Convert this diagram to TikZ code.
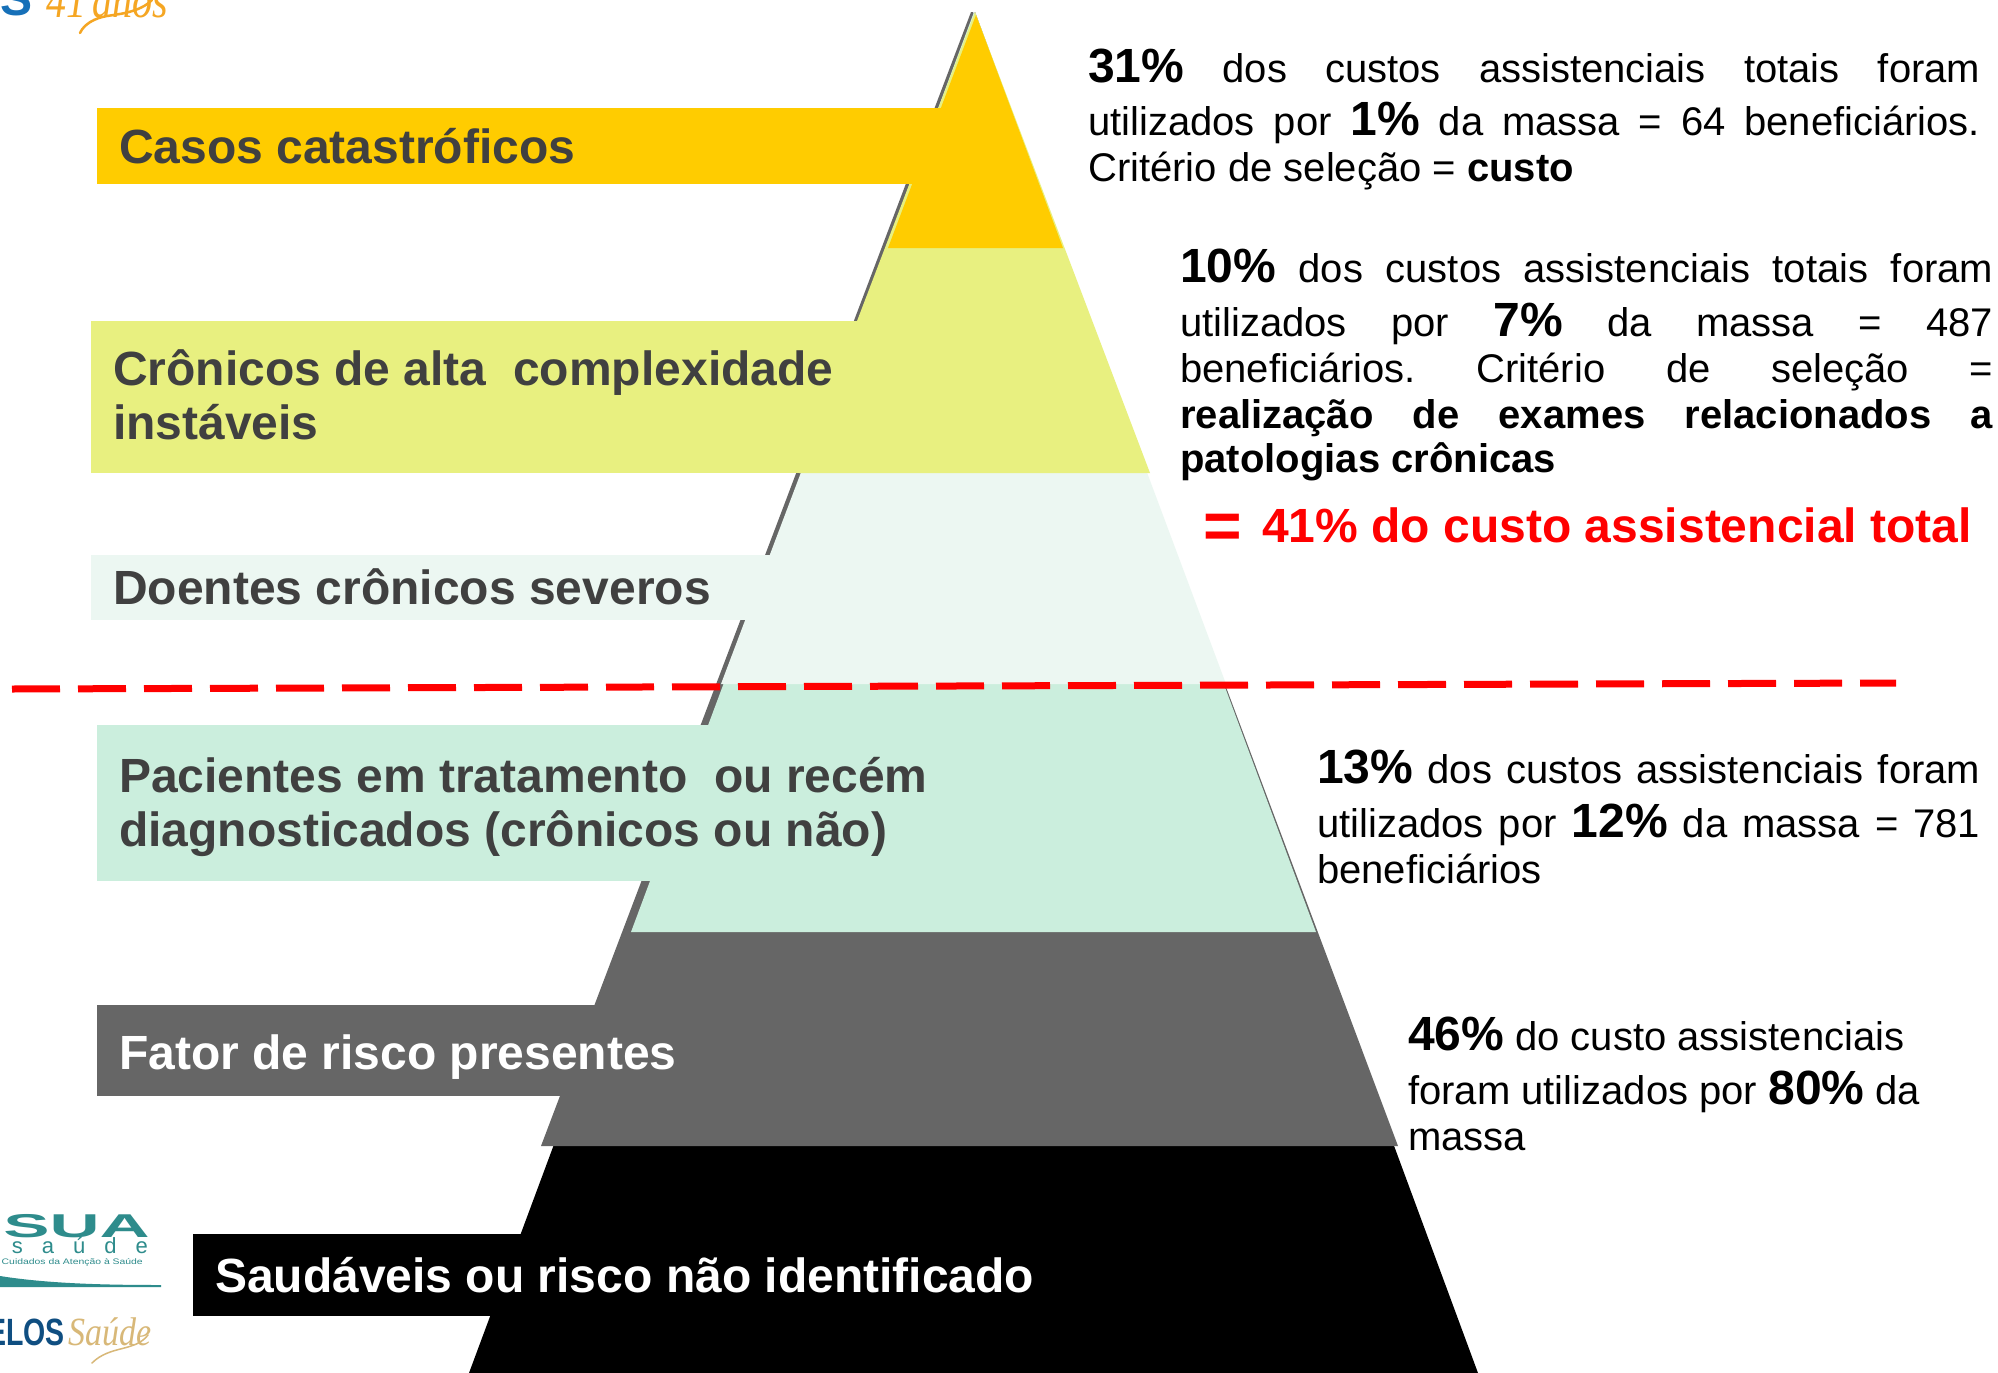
\documentclass[tikz,border=0pt]{standalone}
\usepackage{fontspec}
\setmainfont{Liberation Sans}
\newfontfamily\logoserif{Liberation Serif}
\usetikzlibrary{positioning}

\definecolor{gold}{HTML}{FFCC00}
\definecolor{lime}{HTML}{E8F080}
\definecolor{palemint}{HTML}{ECF7F2}
\definecolor{mint}{HTML}{CBEEDD}
\definecolor{midgrey}{HTML}{666666}
\definecolor{labelgrey}{HTML}{404040}
\definecolor{logoteal}{HTML}{2E8C8C}
\definecolor{logoblue}{HTML}{1670B8}
\definecolor{logotan}{HTML}{D8B878}
\definecolor{logoorange}{HTML}{F5A623}

\normallineskiplimit=-100pt
\newcommand{\bigpct}[1]{{\fontsize{48}{46}\selectfont\bfseries #1}}
\newcommand{\xgap}[1]{\vadjust{\vskip#1pt}}

\tikzset{
  band/.style={anchor=west,inner xsep=22pt,inner ysep=0pt,align=flush left,
    text=labelgrey,font=\fontsize{48}{54}\selectfont\bfseries},
  note/.style={anchor=north west,inner sep=0pt,align=justify,
    font=\fontsize{40}{46}\selectfont\frenchspacing},
  logotext/.style={inner sep=0pt},
}

\begin{document}
\begin{tikzpicture}[x=1pt,y=-1pt]
   \clip (0,0) rectangle (1998,1373);
   \fill[white] (0,0) rectangle (1998,1373);

   % pyramid, one triangle over the other
   \fill[black]    (975,12) -- (469,1373) -- (1478,1373) -- cycle;
   \fill[midgrey]  (971,12) -- (541,1146) -- (1398,1146) -- (973,12) -- cycle;
   \fill[mint]     (974,12) -- (631,932) -- (1316,932) -- cycle;
   \fill[palemint] (975,12) -- (721,684) -- (1226,684) -- cycle;
   \fill[lime]     (975,12) -- (799,473) -- (1150,473) -- cycle;
   \fill[gold]     (976,15) -- (888,248) -- (1063,248) -- cycle;

   \node[band,fill=gold,text width=800pt,minimum height=76pt] (casos) at (97,146) {Casos catastróficos};
   \node[band,fill=lime,text width=780pt,minimum height=152pt] (altos) at (91,397) {Crônicos de alta\ \ complexidade\\instáveis\rule[-4pt]{0pt}{1pt}};
   \node[band,fill=palemint,text width=680pt,minimum height=65pt] (severos) at (91,587) {Doentes crônicos severos};
   \node[band,fill=mint,text width=830pt,minimum height=156pt] (tratamento) at (97,803) {\rule{0pt}{44pt}Pacientes em tratamento\ \ ou recém\\diagnosticados (crônicos ou não)};
   \node[band,fill=midgrey,text=white,text width=600pt,minimum height=91pt] (fator) at (97,1050) {\rule{0pt}{48pt}Fator de risco presentes};
   \node[band,fill=black,text=white,text width=840pt,minimum height=82pt] (saudaveis) at (193,1275) {Saudáveis ou risco não identificado};

   \node[note,text width=892pt] (nota_a) at (1088,49) {\bigpct{31\%} dos custos assistenciais totais foram\xgap{7}\linebreak
     utilizados por \bigpct{1\%} da massa = 64 beneficiários.\linebreak
     Critério de seleção = \textbf{custo}};
   \node[note,text width=813pt] (nota_b) at (1180,249) {\bigpct{10\%} dos custos assistenciais totais foram\xgap{8}\linebreak
     utilizados por \bigpct{7\%} da massa = 487\linebreak
     beneficiários. Critério de seleção =\linebreak
     \textbf{realização de exames relacionados a}\xgap{-2}\linebreak
     \textbf{patologias crônicas}};
   \node[note,text width=663pt] (nota_c) at (1317,750) {\bigpct{13\%} dos custos assistenciais foram\xgap{8}\linebreak
     utilizados por \bigpct{12\%} da massa = 781\linebreak
     beneficiários};
   \node[note,text width=590pt] (nota_d) at (1408,1017) {\bigpct{46\%} do custo assistenciais\xgap{8}\newline
     foram utilizados por \bigpct{80\%} da\newline
     massa};

   \node[anchor=base west,inner sep=0pt,text=red,font=\fontsize{66}{66}\selectfont\bfseries] (igual) at (1203,548) {=};
   \node[anchor=base west,inner sep=0pt,text=red,font=\fontsize{48}{54}\selectfont\bfseries] (total) at (1262,542) {41\% do custo assistencial total};

   % logos cut by the page
   \node[logotext,anchor=base east,text=logoblue,font=\fontsize{48}{48}\selectfont\bfseries] (logo_top) at (33,16) {OS};
   \node[logotext,anchor=base west,text=logoorange,font=\fontsize{50}{50}\selectfont\logoserif\itshape] (logo_anos) at (46,17) {\scalebox{0.8}[1]{41\,anos}};
   \draw[logoorange,line width=2.5pt,line cap=round] (152,0) .. controls (140,12) and (120,14) .. (107,16) .. controls (95,18) and (84,24) .. (80,33);
   \node[logotext,anchor=base east,text=logoteal,font=\fontsize{33}{33}\selectfont\bfseries] (logo_sua) at (150,1237) {\scalebox{2.1}[1]{SUA}};
   \node[logotext,anchor=base east,text=logoteal,font=\fontsize{22}{22}\selectfont] (logo_saude) at (148,1253) {s\hspace{19pt}a\hspace{19pt}ú\hspace{19pt}d\hspace{19pt}e};
   \node[logotext,anchor=base east,text=logoteal,font=\fontsize{8}{8}\selectfont] (logo_sub) at (143,1264) {\scalebox{1.3}[1]{Cuidados da Atenção à Saúde}};
   \fill[logoteal] (0,1276) .. controls (50,1284) and (110,1285) .. (161,1285) -- (161,1287) -- (0,1287) -- cycle;
   \node[logotext,anchor=base east,text=logoblue!70!black,font=\fontsize{38}{38}\selectfont\bfseries] (logo_elos) at (65,1345) {\scalebox{0.75}[1]{ELOS}};
   \node[logotext,anchor=base west,text=logotan,font=\fontsize{40}{40}\selectfont\logoserif\itshape] (logo_tan) at (68,1345) {\scalebox{0.85}[1]{Saúde}};
   \draw[logotan,line width=1.5pt,line cap=round] (148,1335) .. controls (135,1352) and (110,1345) .. (92,1363);

   % cut between the two groups
   \coordinate (cut_a) at (12,689);
   \coordinate (cut_b) at (1896,683);
   \draw[red,line width=7pt,dash pattern=on 48pt off 18pt] (cut_a) -- (cut_b);
\end{tikzpicture}
\end{document}
